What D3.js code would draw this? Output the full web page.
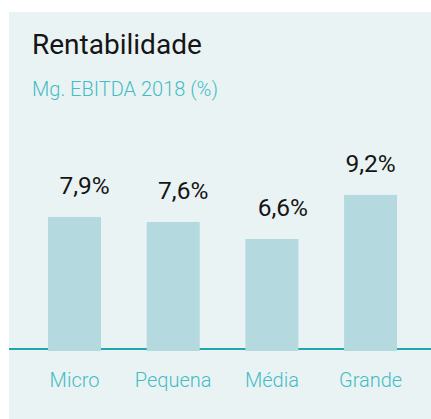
<!DOCTYPE html>
<html>
<head>
<meta charset="utf-8">
<script src="https://cdn.jsdelivr.net/npm/d3@7"></script>
<style>
html,body{margin:0;padding:0;background:#ffffff;}
svg{display:block;}
</style>
</head>
<body>
<script>
const title = "Rentabilidade";
const subtitle = "Mg. EBITDA 2018 (%)";
const categories = ["Micro", "Pequena", "Média", "Grande"];
const values = [7.9, 7.6, 6.6, 9.2];
const valueLabels = ["7,9%", "7,6%", "6,6%", "9,2%"];

const W = 431, H = 419;
// horizontal nudge of the value labels as seen in the reference
const labelNudge = [10, 10, 11, 0];

const svg = d3.select("body").append("svg").attr("width", W).attr("height", H);

// panel
svg.append("rect").attr("x", 9).attr("y", 12).attr("width", W - 9).attr("height", H - 12).attr("fill", "#eaf3f4");

svg.append("text").attr("x", 32).attr("y", 53.5)
  .attr("font-family", "Roboto").attr("font-size", 28).attr("font-weight", 400)
  .attr("fill", "#151515").text(title);

svg.append("text").attr("x", 32).attr("y", 95.5)
  .attr("font-family", "Roboto").attr("font-size", 20).attr("font-weight", 300)
  .attr("fill", "#45bcc4").text(subtitle);

const x = d3.scaleBand().domain(categories).range([25.2, 419.9]).paddingInner(0.463).paddingOuter(0.2315);
const y = d3.scaleLinear().domain([0, 10]).range([351, 181.3]);

// axis baseline
svg.append("line").attr("x1", 9).attr("x2", W).attr("y1", 349).attr("y2", 349)
  .attr("stroke", "#1fa7b0").attr("stroke-width", 2);

svg.selectAll("rect.bar").data(values).enter().append("rect").attr("class", "bar")
  .attr("x", (d, i) => x(categories[i])).attr("width", x.bandwidth())
  .attr("y", d => y(d)).attr("height", d => y(0) - y(d))
  .attr("fill", "#b4d9de");

svg.selectAll("text.val").data(values).enter().append("text").attr("class", "val")
  .attr("x", (d, i) => x(categories[i]) + x.bandwidth() / 2 + labelNudge[i])
  .attr("y", d => y(d) - 23)
  .attr("text-anchor", "middle")
  .attr("font-family", "Roboto").attr("font-size", 24.5).attr("font-weight", 400)
  .attr("fill", "#151515").text((d, i) => valueLabels[i]);

const xAxis = d3.axisBottom(x).tickSize(0).tickPadding(0);
const gx = svg.append("g").attr("transform", "translate(0,387)").call(xAxis);
gx.select(".domain").remove();
gx.selectAll("text").attr("dy", 0).attr("y", 0)
  .attr("font-family", "Roboto").attr("font-size", 20).attr("font-weight", 300)
  .attr("fill", "#45bcc4");
</script>
</body>
</html>
